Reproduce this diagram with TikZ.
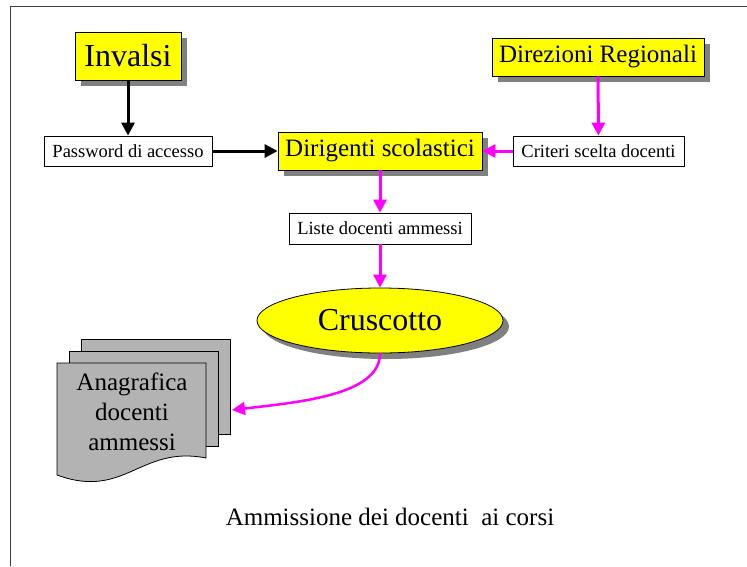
\documentclass[tikz,border=0pt]{standalone}
\usepackage{fontspec}
\setmainfont{Liberation Serif}
\usetikzlibrary{arrows.meta,shadows,shapes.geometric}
\definecolor{docgray}{RGB}{179,179,179}
\definecolor{shadowgray}{RGB}{128,128,128}
\definecolor{framegray}{RGB}{64,64,64}
\definecolor{boxyellow}{RGB}{255,255,0}
\definecolor{linkmagenta}{RGB}{255,0,255}
\begin{document}
\begin{tikzpicture}[x=1pt,y=-1pt,
    yellowbox/.style={draw=black, fill=boxyellow, line width=0.8pt, inner sep=0pt,
        drop shadow={shadow xshift=6pt, shadow yshift=-6pt, fill=shadowgray, opacity=1}},
    whitebox/.style={draw=black, fill=white, line width=0.8pt, inner sep=0pt,
        minimum height=30pt, font=\fontsize{18.5}{22}\selectfont},
    link/.style={-{Triangle[length=13pt,width=13pt]}, line width=3pt}]
    \useasboundingbox (0,0) rectangle (747,566);
    \draw[framegray, line width=1pt] (747,6) -- (10,6) -- (10,566);
    % boxes
    \node[yellowbox, minimum width=106pt, minimum height=48pt, font=\fontsize{32}{38}\selectfont] (invalsi) at (128,56) {Invalsi};
    \node[yellowbox, minimum width=212pt, minimum height=38pt, font=\fontsize{25}{30}\selectfont] (direzioni) at (598,57) {Direzioni Regionali};
    \node[yellowbox, minimum width=204pt, minimum height=38pt, font=\fontsize{25}{30}\selectfont] (dirigenti) at (380,151) {Dirigenti scolastici};
    \node[whitebox, minimum width=168pt] (password) at (128,151) {Password di accesso};
    \node[whitebox, minimum width=171pt] (criteri) at (598.5,151) {Criteri scelta docenti};
    \node[whitebox, minimum width=182pt, minimum height=31pt] (liste) at (380,228.5) {Liste docenti ammessi};
    \node[yellowbox, ellipse, minimum width=246pt, minimum height=65pt, font=\fontsize{32}{38}\selectfont,
        drop shadow={shadow xshift=5pt, shadow yshift=-5pt, fill=shadowgray, opacity=1}] (cruscotto) at (380,320.5) {Cruscotto};
    % documents
    \foreach \s in {24,12}
    \filldraw[fill=docgray, draw=black, line width=0.8pt] (57+\s,363-\s) rectangle (206+\s,458-\s);
    \filldraw[fill=docgray, draw=black, line width=0.8pt] (57,363) -- (206,363) -- (206,458)
        .. controls (140,445) and (125,500) .. (57,475) -- cycle;
    \node[align=center, font=\fontsize{25}{30}\selectfont] (anagrafica) at (132,412) {Anagrafica\\docenti\\ammessi};
    \coordinate (docs) at (232,410);
    % arrows
    \draw[link] (invalsi) -- (password);
    \draw[link] (password) -- (dirigenti);
    \draw[link, linkmagenta] (direzioni) -- (criteri);
    \draw[link, linkmagenta] (criteri) -- (dirigenti);
    \draw[link, linkmagenta] (dirigenti) -- (liste);
    \draw[link, linkmagenta] (liste) -- (cruscotto);
    \draw[linkmagenta, line width=2.5pt, -{Triangle[length=13pt,width=13pt]}] (cruscotto.south)
        .. controls (380,395) and (300,402) .. (docs);
    \node[font=\fontsize{25}{30}\selectfont] (caption) at (390,517) {Ammissione dei docenti\ \ ai corsi};
\end{tikzpicture}
\end{document}
